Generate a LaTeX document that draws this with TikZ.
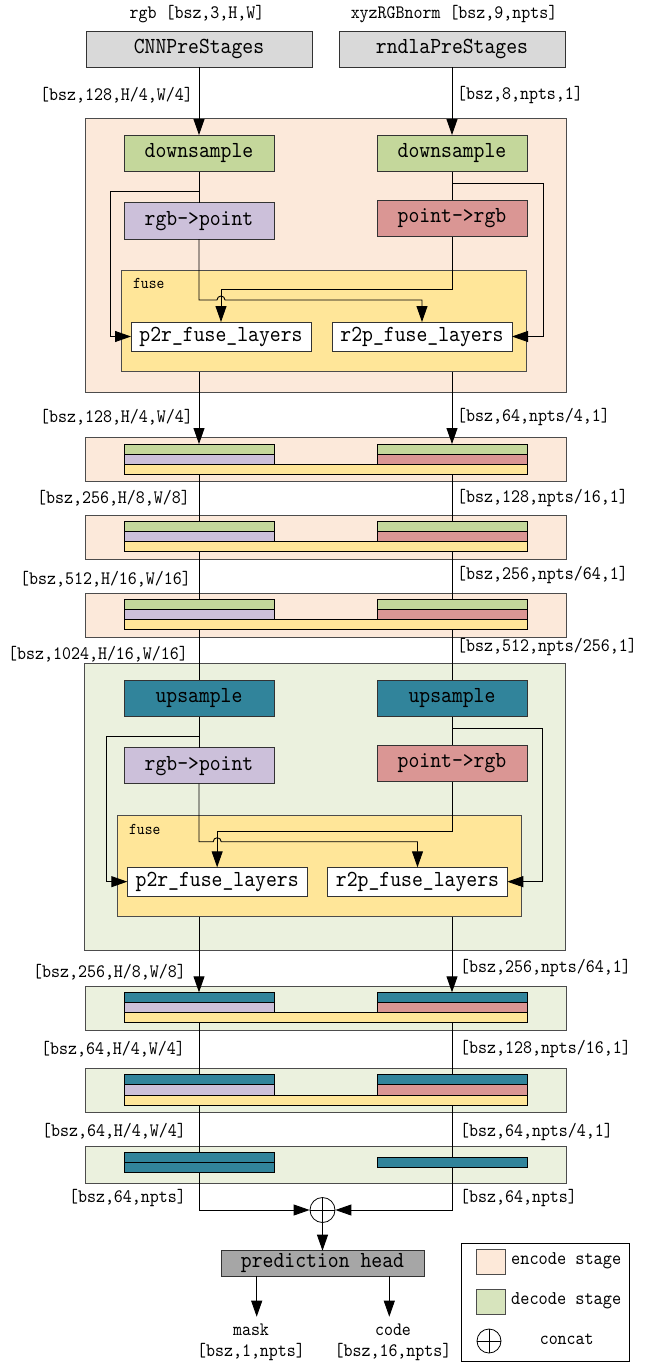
\documentclass[tikz,border=0pt]{standalone}
\usepackage{fontspec}
\setmainfont{lmmono10-regular.otf}[FakeStretch=0.9]
\usetikzlibrary{arrows.meta,fit}
\definecolor{encbg}{HTML}{FCE9DA}
\definecolor{decbg}{HTML}{EBF1DE}
\definecolor{grn}{HTML}{C4D79B}
\definecolor{lav}{HTML}{CCC0DA}
\definecolor{sal}{HTML}{DA9694}
\definecolor{yel}{HTML}{FFE699}
\definecolor{teal}{HTML}{31849B}
\definecolor{pregray}{HTML}{D9D9D9}
\definecolor{predgray}{HTML}{A6A6A6}
\definecolor{decsw}{HTML}{D7E4BD}
\definecolor{encsw}{HTML}{FDE9D9}
\newcommand\fstage[9]{%
  \node[stg,fill=#8,fit={(85,#2)(566,#3)}] (#1) {};
  \node[bar,fill=#9,fit={(124,#4)(274,#5)}] (#1tl) {};
  \node[bar,fill=lav,fit={(124,#5)(274,#6)}] (#1ml) {};
  \node[bar,fill=#9,fit={(377,#4)(527,#5)}] (#1tr) {};
  \node[bar,fill=sal,fit={(377,#5)(527,#6)}] (#1mr) {};
  \node[bar,fill=yel,fit={(124,#6)(527,#7)}] (#1y) {};
}
\newcommand\bnode[7]{%
  \pgfmathsetmacro\bcx{(#3+#5)/2}%
  \pgfmathsetmacro\bcy{(#4+#6)/2}%
  \pgfmathsetmacro\bww{#5-#3}%
  \pgfmathsetmacro\bhh{#6-#4}%
  \node[bx,#1,minimum width=\bww pt,minimum height=\bhh pt] (#2) at (\bcx,\bcy) {#7};}
\begin{document}
\begin{tikzpicture}[x=1pt,y=-1pt,
  bx/.style={draw=black!80,line width=0.7pt,inner sep=0pt,outer sep=0pt,
    font=\fontsize{23}{24}\selectfont,text height=12.5pt,text depth=3.5pt},
  stg/.style={draw=black!70,line width=0.7pt,inner sep=0pt,outer sep=0pt},
  bar/.style={draw=black,line width=0.8pt,inner sep=0pt,outer sep=0pt},
  lbl/.style={font=\fontsize{19}{20}\selectfont,inner sep=0pt},
  small/.style={font=\fontsize{16.5}{17}\selectfont,inner sep=0pt},
  ln/.style={line width=0.9pt},
  arr/.style={line width=0.9pt,-{Triangle[length=16pt,width=11pt]}}]
\useasboundingbox[fill=white] (0,0) rectangle (650,1363);

% ---------- inputs ----------
\node[lbl] (rgbin) at (197,14) {rgb [bsz,3,H,W]};
\node[lbl] (xyzin) at (454,14) {xyzRGBnorm [bsz,9,npts]};
\bnode{fill=pregray}{pre1}{86}{31}{312}{67}{CNNPreStages}
\bnode{fill=pregray}{pre2}{339}{31}{565}{67}{rndlaPreStages}
\node[lbl,anchor=east] (l0a) at (193,95) {[bsz,128,H/4,W/4]};
\node[lbl,anchor=west] (l0b) at (457,95) {[bsz,8,npts,1]};

% ---------- encoder block ----------
\node[stg,fill=encbg,fit={(85,118)(566,392)}] (enc) {};
\bnode{fill=grn}{ds1}{124}{135}{274}{171.5}{downsample}
\bnode{fill=grn}{ds2}{377}{135}{527}{171.5}{downsample}
\bnode{fill=lav}{rp1}{124}{202.5}{274}{239}{rgb->point}
\bnode{fill=sal}{pr1}{377}{200}{527}{236.5}{point->rgb}
\node[stg,fill=yel,fit={(121,270)(526,371.5)}] (fuse1) {};
\node[small,anchor=west] (fl1) at (133,283) {fuse};
\bnode{fill=white}{p2r1}{131}{322}{311}{351}{p2r\_fuse\_layers}
\bnode{fill=white}{r2p1}{332}{322}{512}{351}{r2p\_fuse\_layers}

\draw[arr] (pre1.south) -- (ds1.north);
\draw[arr] (pre2.south) -- (ds2.north);
\draw[ln] (ds1.south) -- (rp1.north);
\draw[ln] (ds2.south) -- (pr1.north);
\draw[arr] (ds1.south) ++(0,19.5) -- ++(-88.5,0) |- (p2r1.west);
\draw[arr] (ds2.south) ++(0,12.2) -- ++(91.5,0) |- (r2p1.east);
\draw[arr] (pr1.south) -- ++(0,52.5) -| (p2r1.north);
\draw[arr] (rp1.south) -- ++(0,61) -- ++(18,0) arc[start angle=180,end angle=0,radius=4pt] -| (r2p1.north);

% ---------- encoder stages ----------
\fstage{sa}{437.7}{481}{444}{454}{464}{474}{encbg}{grn}
\fstage{sb}{515.7}{559}{521.7}{531.7}{541.7}{551.5}{encbg}{grn}
\fstage{sc}{593.7}{637}{599.7}{609.7}{619.7}{629.7}{encbg}{grn}

\draw[arr] (fuse1.south -| ds1.south) -- (satl.north);
\draw[arr] (fuse1.south -| ds2.south) -- (satr.north);
\draw[ln] (say.south -| satl.south) -- (sbtl.north);
\draw[ln] (say.south -| satr.south) -- (sbtr.north);
\draw[ln] (sby.south -| sbtl.south) -- (sctl.north);
\draw[ln] (sby.south -| sbtr.south) -- (sctr.north);

\node[lbl,anchor=east] (l1a) at (193,417) {[bsz,128,H/4,W/4]};
\node[lbl,anchor=west] (l1b) at (457,417) {[bsz,64,npts/4,1]};
\node[lbl,anchor=east] (l2a) at (190,498) {[bsz,256,H/8,W/8]};
\node[lbl,anchor=west] (l2b) at (457,498) {[bsz,128,npts/16,1]};
\node[lbl,anchor=east] (l3a) at (191,579) {[bsz,512,H/16,W/16]};
\node[lbl,anchor=west] (l3b) at (457,575) {[bsz,256,npts/64,1]};
\node[lbl,anchor=east] (l4a) at (188,654) {[bsz,1024,H/16,W/16]};
\node[lbl,anchor=west] (l4b) at (457,647) {[bsz,512,npts/256,1]};

% ---------- decoder block ----------
\node[stg,fill=decbg,fit={(84,663.3)(565,950.7)}] (dec) {};
\bnode{fill=teal}{us1}{124}{680}{274}{716.7}{upsample}
\bnode{fill=teal}{us2}{377}{680}{527}{716.7}{upsample}
\bnode{fill=lav}{rp2}{124}{747.7}{274}{783.7}{rgb->point}
\bnode{fill=sal}{pr2}{377}{745}{527}{781.7}{point->rgb}
\node[stg,fill=yel,fit={(117,815.3)(521.7,916.7)}] (fuse2) {};
\node[small,anchor=west] (fl2) at (129,829) {fuse};
\bnode{fill=white}{p2r2}{127.3}{867.3}{307}{896}{p2r\_fuse\_layers}
\bnode{fill=white}{r2p2}{327.7}{867.3}{507.3}{896}{r2p\_fuse\_layers}

\draw[ln] (scy.south -| sctl.south) -- (us1.north);
\draw[ln] (scy.south -| sctr.south) -- (us2.north);
\draw[ln] (us1.south) -- (rp2.north);
\draw[ln] (us2.south) -- (pr2.north);
\draw[arr] (us1.south) ++(0,19.3) -- ++(-92.7,0) |- (p2r2.west);
\draw[arr] (us2.south) ++(0,12) -- ++(90.3,0) |- (r2p2.east);
\draw[arr] (pr2.south) -- ++(0,49.3) -| (p2r2.north);
\draw[arr] (rp2.south) -- ++(0,58) -- ++(14.2,0) arc[start angle=180,end angle=0,radius=4pt] -| (r2p2.north);

% ---------- decoder stages ----------
\fstage{sd}{986}{1030}{992.3}{1002.3}{1012.3}{1022.3}{decbg}{teal}
\fstage{se}{1068.3}{1112.3}{1074.3}{1084.7}{1095}{1105}{decbg}{teal}
\node[stg,fill=decbg,fit={(85,1146.7)(566,1183.3)}] (sf) {};
\node[bar,fill=teal,fit={(124,1152.3)(274,1162.3)}] (sftl) {};
\node[bar,fill=teal,fit={(124,1162.3)(274,1172.3)}] (sfml) {};
\node[bar,fill=teal,fit={(377,1157.3)(527,1167.3)}] (sfr) {};

\draw[arr] (fuse2.south -| us1.south) -- (sdtl.north);
\draw[arr] (fuse2.south -| us2.south) -- (sdtr.north);
\draw[ln] (sdy.south -| sdtl.south) -- (setl.north);
\draw[ln] (sdy.south -| sdtr.south) -- (setr.north);
\draw[ln] (sey.south -| setl.south) -- (sftl.north);
\draw[ln] (sey.south -| setr.south) -- (sfr.north);

\node[lbl,anchor=east] (l5a) at (186,972) {[bsz,256,H/8,W/8]};
\node[lbl,anchor=west] (l5b) at (460,968) {[bsz,256,npts/64,1]};
\node[lbl,anchor=east] (l6a) at (185,1049) {[bsz,64,H/4,W/4]};
\node[lbl,anchor=west] (l6b) at (460,1049) {[bsz,128,npts/16,1]};
\node[lbl,anchor=east] (l7a) at (186,1131.7) {[bsz,64,H/4,W/4]};
\node[lbl,anchor=west] (l7b) at (460,1131.7) {[bsz,64,npts/4,1]};
\node[lbl,anchor=east] (l8a) at (186,1198) {[bsz,64,npts]};
\node[lbl,anchor=west] (l8b) at (460,1198) {[bsz,64,npts]};

% ---------- head ----------
\node[circle,draw,line width=0.8pt,minimum size=25pt,inner sep=0pt] (cat) at (322.5,1210) {};
\draw[line width=0.8pt] (cat.north) -- (cat.south) (cat.west) -- (cat.east);
\draw[arr] (sfml.south) |- (cat.west);
\draw[arr] (sfr.south) |- (cat.east);
\bnode{fill=predgray}{pred}{221}{1250.7}{424}{1276}{prediction head}
\draw[arr] (cat.south) -- (pred.north);
\coordinate (m1) at (256.7,1316.7);
\coordinate (m2) at (389.3,1316.7);
\draw[arr] (pred.south -| m1) -- (m1);
\draw[arr] (pred.south -| m2) -- (m2);
\node[lbl] (mask) at (251,1330) {mask};
\node[lbl] (maskd) at (251,1352) {[bsz,1,npts]};
\node[lbl] (code) at (393,1330) {code};
\node[lbl] (coded) at (393,1352) {[bsz,16,npts]};

% ---------- legend ----------
\node[stg,draw=black,fit={(461,1243.3)(629.3,1361.7)}] (leg) {};
\node[stg,fill=encsw,fit={(476.3,1249.3)(505.3,1274.7)}] (sw1) {};
\node[stg,fill=decsw,fit={(476.3,1289)(505.3,1314)}] (sw2) {};
\node[lbl,anchor=west,font=\fontsize{19.4}{20}\selectfont] (lt1) at (511,1261) {encode stage};
\node[lbl,anchor=west,font=\fontsize{19.4}{20}\selectfont] (lt2) at (511,1301) {decode stage};
\node[circle,draw,line width=0.8pt,minimum size=24pt,inner sep=0pt] (lcat) at (489,1341) {};
\draw[line width=0.8pt] (lcat.north) -- (lcat.south) (lcat.west) -- (lcat.east);
\node[lbl] (lt3) at (566.7,1339) {concat};
\end{tikzpicture}
\end{document}
